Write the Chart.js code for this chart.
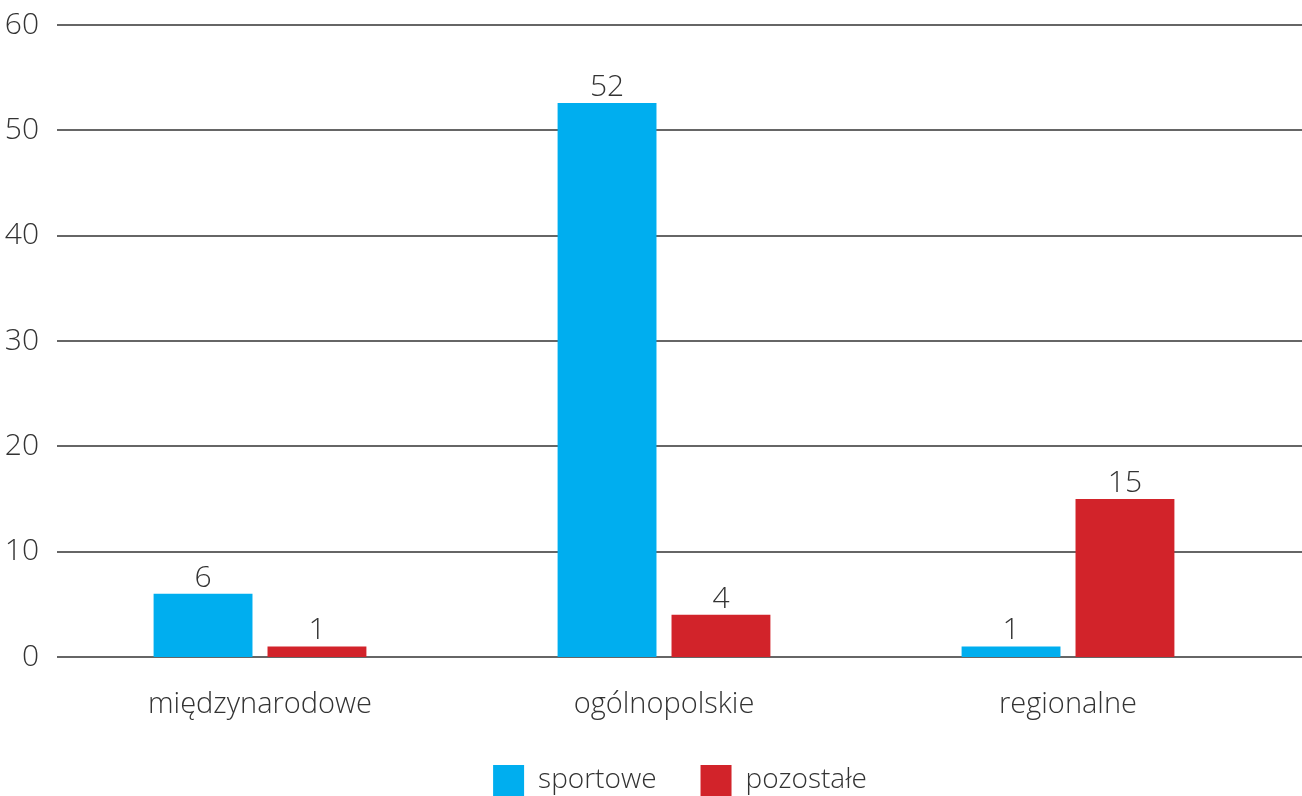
<!DOCTYPE html>
<html lang="pl">
<head>
<meta charset="utf-8">
<title>Wydarzenia</title>
<script src="https://cdn.jsdelivr.net/npm/chart.js@4"></script>
<style>
  html, body { margin: 0; padding: 0; overflow: hidden; background: #fff; }
  #wrap { position: absolute; left: 0; top: 0; width: 1302px; height: 806px; }
</style>
</head>
<body>
<div id="wrap"><canvas id="eventsChart"></canvas></div>
<script>
const categories = ["międzynarodowe", "ogólnopolskie", "regionalne"];
const sportowe = [6, 52.6, 1];
const pozostale = [1, 4, 15];
const sportoweLabels = ["6", "52", "1"];
const pozostaleLabels = ["1", "4", "15"];
const yTicks = [0, 10, 20, 30, 40, 50, 60];

const FONT = "'Open Sans', 'DejaVu Sans', sans-serif";
const TEXT = "#333";
const GRID = "#666";

// grid lines run past the plot area up to the page edge
const gridPlugin = {
    id: "wideGrid",
    beforeDatasetsDraw(chart) {
        const { ctx, chartArea, scales } = chart;
        ctx.save();
        ctx.strokeStyle = GRID;
        ctx.lineWidth = 2;
        yTicks.forEach(v => {
            const y = Math.round(scales.y.getPixelForValue(v));
            ctx.beginPath();
            ctx.moveTo(chartArea.left - 1, y);
            ctx.lineTo(chart.width, y);
            ctx.stroke();
        });
        ctx.restore();
    }
};

const valueLabels = {
    id: "valueLabels",
    afterDatasetsDraw(chart) {
        const { ctx } = chart;
        const texts = [sportoweLabels, pozostaleLabels];
        ctx.save();
        ctx.font = "300 30px " + FONT;
        ctx.fillStyle = TEXT;
        ctx.textAlign = "center";
        ctx.textBaseline = "alphabetic";
        chart.data.datasets.forEach((ds, i) => {
            chart.getDatasetMeta(i).data.forEach((bar, j) => {
                ctx.fillText(texts[i][j], bar.x, bar.y - 7);
            });
        });
        ctx.restore();
    }
};

// legend is centred under the plot area, not the whole canvas
const legendShift = {
    id: "legendShift",
    afterLayout(chart) {
        chart.legend.left = 90;
    }
};

new Chart(document.getElementById("eventsChart"), {
    type: "bar",
    data: {
        labels: categories,
        datasets: [
            { label: "sportowe", data: sportowe, backgroundColor: "#00AEEF" },
            { label: "pozostałe", data: pozostale, backgroundColor: "#D2232A" }
        ]
    },
    options: {
        responsive: true,
        maintainAspectRatio: false,
        animation: false,
        categoryPercentage: 0.564,
        barPercentage: 0.868,
        layout: { padding: { top: 25, right: 32, left: 0, bottom: 0 } },
        plugins: {
            tooltip: { enabled: false },
            legend: {
                position: "bottom",
                labels: {
                    boxWidth: 31,
                    boxHeight: 31,
                    padding: 44,
                    color: TEXT,
                    font: { family: FONT, size: 28, weight: 300 }
                }
            }
        },
        scales: {
            x: {
                grid: { display: false, drawTicks: false },
                border: { display: false },
                afterFit(scale) { scale.height = 64; },
                ticks: { color: TEXT, padding: 30, font: { family: FONT, size: 29, weight: 300 } }
            },
            y: {
                min: 0,
                max: 60,
                grid: { display: false, drawTicks: false },
                border: { display: false },
                afterFit(scale) {
                    scale.width = 58;
                    scale.paddingTop = 0;
                    scale.paddingBottom = 0;
                },
                ticks: { stepSize: 10, color: TEXT, padding: 19, font: { family: FONT, size: 30, weight: 300 } }
            }
        }
    },
    plugins: [gridPlugin, valueLabels, legendShift]
});
</script>
</body>
</html>
